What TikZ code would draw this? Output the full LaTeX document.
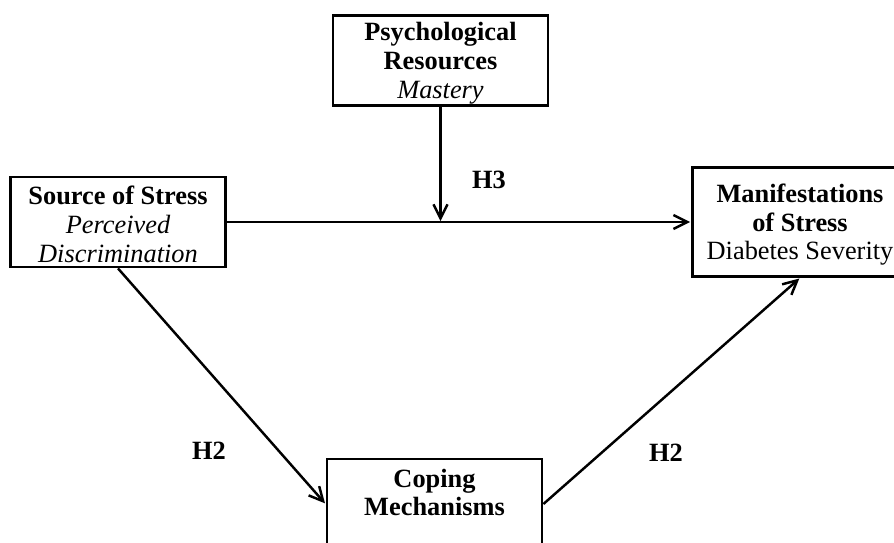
\documentclass[tikz,border=0pt]{standalone}
\usepackage{fontspec}
\setmainfont{Liberation Serif}
\usepackage{tikz}
\usetikzlibrary{arrows.meta}
\usetikzlibrary{positioning}

\newcommand{\topgap}{\rule{0pt}{13.5pt}}

\begin{document}
\begin{tikzpicture}[->,>={Straight Barb[length=8pt,width=8pt]},shorten >=0.5pt,line width=1.4pt,
    box/.style={shape=rectangle,draw=black,line width=1.6pt,minimum width=4.3cm,minimum height=1.8cm,
        inner sep=0pt,align=center,font=\fontsize{15}{16.4}\selectfont},
    hyp/.style={font=\fontsize{15}{16.4}\selectfont\bfseries}]

    \useasboundingbox (0,0) rectangle (17.88,10.84);
    \begin{scope}
    \clip (0,0) rectangle (17.88,10.84);

        % Boxes
        \node[box] (Psy) at (8.81,9.63) {\topgap\textbf{Psychological}\\\textbf{Resources}\\\textit{Mastery}};
        \node[box] (Src) at (2.36,6.40) {\topgap\textbf{Source of Stress}\\\textit{Perceived}\\\textit{Discrimination}};
        \node[box,minimum height=2.18cm] (Man) at (16.0,6.40) {\topgap\textbf{Manifestations}\\\textbf{of Stress}\\Diabetes Severity};
        \node[box] (Cop) at (8.69,0.76) {\topgap\textbf{Coping}\\\textbf{Mechanisms}\\\mbox{}};

        % Hypothesis labels
        \node[hyp] (L3) at (9.78,7.24) {H3};
        \node[hyp] (L2a) at (4.18,1.82) {H2};
        \node[hyp] (L2b) at (13.32,1.78) {H2};

        % Arrows
        \coordinate (Mid) at (Psy.south |- Src.east);
        \path (Src.east) edge (Man.west);
        \path (Psy.south) edge (Mid);
        \path (Src.south) edge (Cop.west);
        \path (Cop.east) edge (Man.south);

    \end{scope}
\end{tikzpicture}
\end{document}
